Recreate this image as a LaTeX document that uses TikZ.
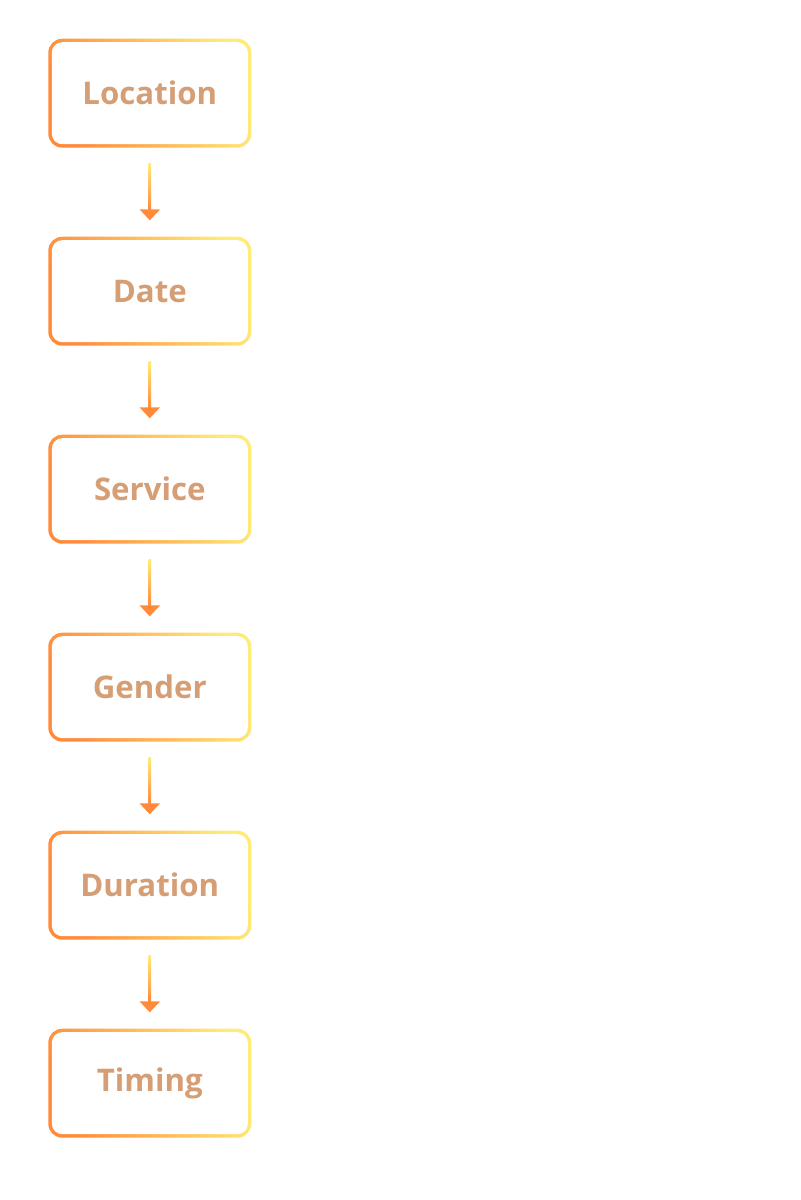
\documentclass[tikz,border=0pt]{standalone}
\usepackage{fontspec}
\setmainfont{Open Sans}
\usetikzlibrary{calc,arrows.meta}
\definecolor{cO}{HTML}{FF8A3A}
\definecolor{cY}{HTML}{FFEC78}
\definecolor{cT}{HTML}{D59E74}
\tikzset{
  stepbox/.style={rectangle, rounded corners=7pt, minimum width=101.5pt, minimum height=54.5pt,
    left color=cO, right color=cY, shading angle=110,
    font=\fontsize{15.6pt}{18pt}\selectfont\bfseries, text=cT,
    path picture={\fill[white, rounded corners=5.25pt]
      ($(path picture bounding box.south west)+(1.75pt,1.75pt)$) rectangle
      ($(path picture bounding box.north east)-(1.75pt,1.75pt)$);}},
  conn/.style={draw=cO, line width=1.25pt, shorten <=7.5pt, shorten >=8pt,
    -{Triangle[width=10pt,length=5.5pt]}},
}
\begin{document}
\begin{tikzpicture}[x=1pt,y=1pt]
\useasboundingbox (0,0) rectangle (400,-600);
\foreach \n/\t [count=\i from 0] in {n1/Location,n2/Date,n3/Service,n4/Gender,n5/Duration,n6/Timing}{
  \node[stepbox] (\n) at (74.9,{-46.6-99*\i}) {\t};
}
\foreach \a/\b in {n1/n2,n2/n3,n3/n4,n4/n5,n5/n6}{
  \draw[conn] (\a) -- (\b);
  \shade[top color=cY, bottom color=cO] ($(\a.south)+(-0.63,-7.5)$) rectangle ($(\b.north)+(0.63,13)$);
}
\end{tikzpicture}
\end{document}
